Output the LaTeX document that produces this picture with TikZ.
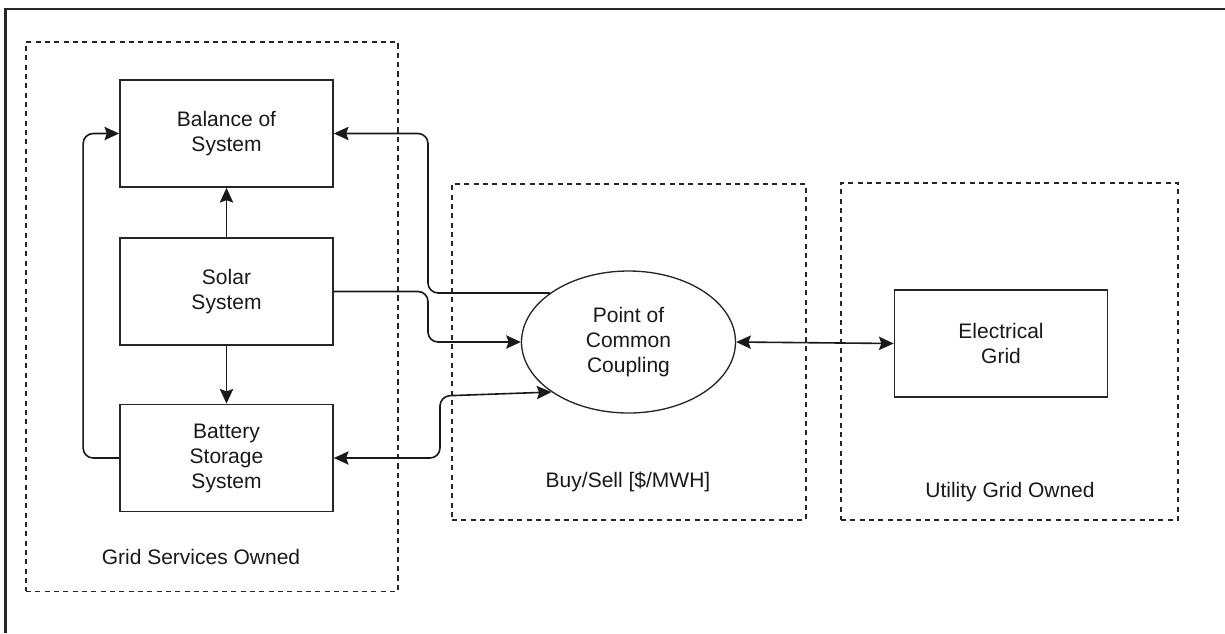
\documentclass[tikz,border=0pt]{standalone}
\usepackage{fontspec}
\setmainfont{Liberation Sans}
\usetikzlibrary{shapes.geometric,arrows.meta}

\begin{document}
\begin{tikzpicture}[x=0.75pt,y=-0.75pt,
  font=\fontsize{15.75}{18.75}\selectfont,
  block/.style={draw=black!85,line width=1.3pt,rectangle,inner sep=0pt,
    minimum width=159.75pt,minimum height=80.25pt,align=center,text=black!90},
  hub/.style={draw=black!85,line width=1pt,ellipse,inner sep=0pt,
    minimum width=160.5pt,minimum height=106.5pt,align=center,text=black!90},
  group/.style={draw=black!85,line width=1pt,dash pattern=on 3.8pt off 3.2pt,
    rectangle,inner sep=0pt},
  caption/.style={text=black!90,inner sep=0pt},
  link/.style={draw=black!90,line width=1.2pt,rounded corners=7.5pt},
  tip/.style={-{Stealth[length=11pt,width=10pt,inset=1.8pt]}},
  tips/.style={{Stealth[length=11pt,width=10pt,inset=1.8pt]}-{Stealth[length=11pt,width=10pt,inset=1.8pt]}}
]
\useasboundingbox (0,0) rectangle (1225,633);

% outer frame (top and left edges)
\draw[black!85,line width=1.8pt] (1225,9) -- (5.5,9) -- (5.5,633);

% ownership groups
\node[group,minimum width=279pt,minimum height=412pt] (gso) at (212,316.5) {};
\node[group,minimum width=265.5pt,minimum height=252pt] (bs) at (629,352) {};
\node[group,minimum width=252.75pt,minimum height=252.75pt] (ugo) at (1009.5,351.5) {};

\node[caption] (gsolbl) at (201,557) {Grid Services Owned};
\node[caption] (bslbl) at (628,482) {Buy/Sell [\$/MWH]};
\node[caption] (ugolbl) at (1010,492) {Utility Grid Owned};

% components
\node[block] (bos) at (226.5,133.5) {Balance of\\System};
\node[block] (solar) at (226.5,291.5) {Solar\\System};
\node[block] (bat) at (226.5,458) {Battery\\Storage\\System};
\node[hub] (pcc) at (628.5,342) {Point of\\Common\\Coupling};
\node[block] (grid) at (1001,343.5) {Electrical\\Grid};

% routing points
\coordinate (ja) at (428,200);
\coordinate (jb) at (428,320);
\coordinate (jc) at (440,396);

% connections
\draw[link,tip] (solar.north) -- (bos.south);
\draw[link,tip] (solar.south) -- (bat.north);
\draw[link,tip] (bat.west) -- ++(-36,0) |- (bos.west);
\draw[link,tip] (pcc.148) -- (pcc.148 -| ja) |- (bos.east);
\draw[link,tip] (solar.east) -| (jb) |- (pcc.west);
\draw[link,tips] (bat.east) -| (jc) -- (pcc.213.5);
\draw[link,tips] (pcc.east) -- (grid.west);
\end{tikzpicture}
\end{document}
